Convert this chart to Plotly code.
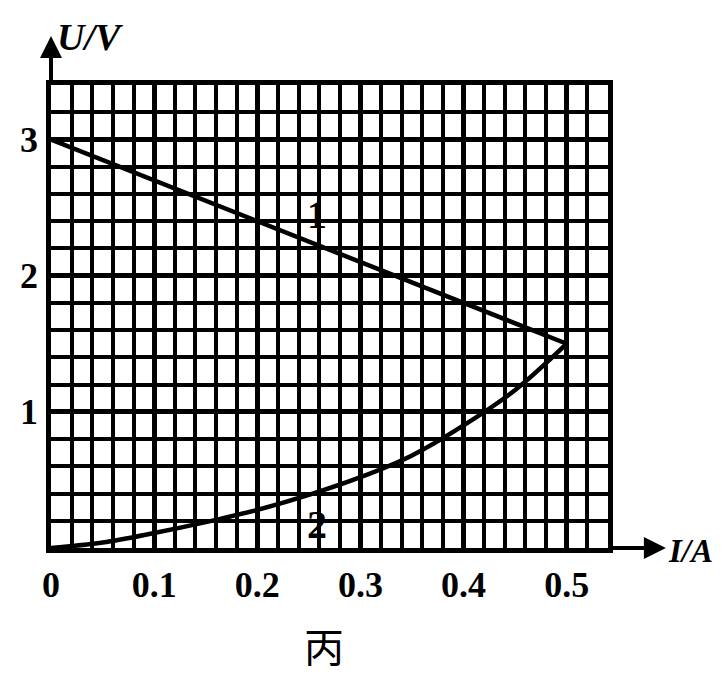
import plotly.graph_objects as go

# ---- data ----
line1_I = [0.0, 0.5]
line1_U = [3.0, 1.5]

curve2_I = [0.0, 0.05, 0.10, 0.15, 0.20, 0.25, 0.30, 0.35, 0.40, 0.45, 0.5]
curve2_U = [0.0, 0.04, 0.11, 0.19, 0.28, 0.39, 0.52, 0.68, 0.90, 1.16, 1.5]

x_tickvals = [0, 0.1, 0.2, 0.3, 0.4, 0.5]
x_ticktext = ["0", "0.1", "0.2", "0.3", "0.4", "0.5"]
y_tickvals = [1, 2, 3]
y_ticktext = ["1", "2", "3"]

x_range = [0, 0.54]
y_range = [0, 3.4]

label1 = ("1", 0.258, 2.45)
label2 = ("2", 0.258, 0.17)

# page body has an 8px margin: the figure sits at (8, 8) in the window
OFF = 8
W, H = 723 - OFF, 679 - OFF
ML, MT = 40 - OFF, 85 - OFF
PW, PH = 568, 463
MR, MB = W - ML - PW, H - MT - PH


def px_to_paper(px, py):
    # px, py are window pixel coordinates
    return (px - OFF - ML) / PW, (MT + PH - (py - OFF)) / PH


fig = go.Figure()
fig.add_trace(go.Scatter(x=line1_I, y=line1_U, mode="lines",
                         line=dict(color="black", width=4.5), hoverinfo="skip"))
fig.add_trace(go.Scatter(x=curve2_I, y=curve2_U, mode="lines",
                         line=dict(color="black", width=4.5, shape="spline", smoothing=1.0),
                         hoverinfo="skip"))

tickfont = dict(family="Liberation Serif", size=36, color="black", weight="bold")

fig.update_xaxes(range=x_range, tickmode="array", tickvals=x_tickvals, ticktext=x_ticktext,
                 showgrid=True, gridcolor="black", gridwidth=4.5,
                 minor=dict(tickmode="linear", tick0=0, dtick=0.02, showgrid=True,
                            gridcolor="black", gridwidth=4),
                 showline=True, mirror=True, linecolor="black", linewidth=4.5,
                 zeroline=False, ticks="", tickfont=tickfont, ticklabelstandoff=1,
                 fixedrange=True)
fig.update_yaxes(range=y_range, tickmode="array", tickvals=y_tickvals, ticktext=y_ticktext,
                 showgrid=True, gridcolor="black", gridwidth=4.5,
                 minor=dict(tickmode="linear", tick0=0, dtick=0.2, showgrid=True,
                            gridcolor="black", gridwidth=4),
                 showline=True, mirror=True, linecolor="black", linewidth=4.5,
                 zeroline=False, ticks="", tickfont=tickfont, ticklabelstandoff=1,
                 fixedrange=True)

annotations = []
# curve labels
for txt, xi, yu in (label1, label2):
    annotations.append(dict(x=xi, y=yu, xref="x", yref="y", text=txt, showarrow=False,
                            font=dict(family="Liberation Serif", size=40, color="black",
                                      weight="bold")))
# axis arrows
tx, ty = px_to_paper(40, 36)
annotations.append(dict(x=0, y=ty, xref="paper", yref="paper", text="", showarrow=True,
                        ax=0, ay=85 - 36, axref="pixel", ayref="pixel",
                        arrowhead=2, arrowsize=1.1, arrowwidth=4, arrowcolor="black",
                        standoff=0))
tx, ty = px_to_paper(667, 548)
annotations.append(dict(x=tx, y=0, xref="paper", yref="paper", text="", showarrow=True,
                        ax=-(667 - 608), ay=0, axref="pixel", ayref="pixel",
                        arrowhead=2, arrowsize=1.1, arrowwidth=4, arrowcolor="black",
                        standoff=0))
# axis titles
ux, uy = px_to_paper(80, 37)
annotations.append(dict(x=ux, y=uy, xref="paper", yref="paper", text="<i>U/V</i>",
                        showarrow=False, xanchor="center", yanchor="middle",
                        font=dict(family="Liberation Serif", size=38, color="black",
                                  weight="bold")))
ix, iy = px_to_paper(667, 551)
annotations.append(dict(x=ix, y=iy, xref="paper", yref="paper", text="<i>I/A</i>",
                        showarrow=False, xanchor="left", yanchor="middle",
                        font=dict(family="Liberation Serif", size=33, color="black",
                                  weight="bold")))
# caption
cx, cy = px_to_paper(318, 645)
annotations.append(dict(x=cx, y=cy, xref="paper", yref="paper", text="丙",
                        showarrow=False, xanchor="center", yanchor="middle",
                        font=dict(family="Noto Sans CJK SC", size=40, color="black")))

fig.update_layout(width=W, height=H, margin=dict(l=ML, r=MR, t=MT, b=MB),
                  paper_bgcolor="white", plot_bgcolor="white", showlegend=False,
                  annotations=annotations)

fig.write_html("out.html")
